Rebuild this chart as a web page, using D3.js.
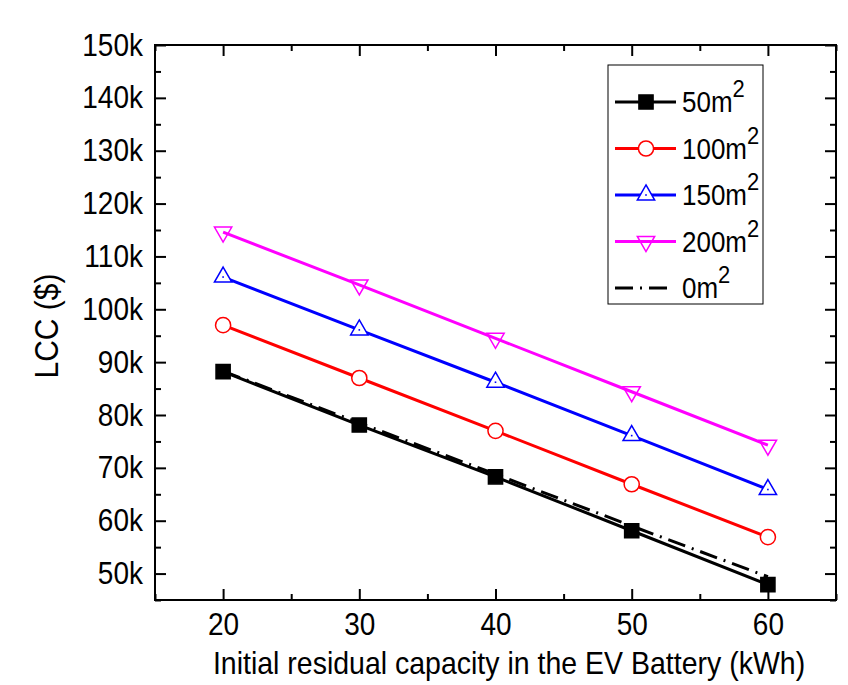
<!DOCTYPE html>
<html>
  <head>
    <title>LCC vs initial residual capacity</title>
    <script src="https://cdn.jsdelivr.net/npm/d3@7"></script>
    <style>
      body { margin: 0; background: #fff; }
      text { font-family: "Liberation Sans", Arial, sans-serif; fill: #000; }
    </style>
  </head>
  <body>
    <svg width="848" height="685" id="mainsvg"></svg>
    <script>
        // data (values in k$)
        const capacity = [20, 30, 40, 50, 60];
        const lcc50  = [88.2, 78.1, 68.3, 58.1, 47.9];
        const lcc100 = [97.0, 87.0, 77.0, 66.9, 56.9];
        const lcc150 = [106.1, 96.1, 86.2, 76.1, 65.9];
        const lcc200 = [114.6, 104.6, 94.5, 84.4, 74.3];
        const lcc0   = [88.3, 78.5, 68.8, 59.0, 49.4];
        const seriesNames = ['50', '100', '150', '200', '0'];
        const xTicks = [20, 30, 40, 50, 60];
        const yTicks = [50, 60, 70, 80, 90, 100, 110, 120, 130, 140, 150];

        const svg = d3.select('#mainsvg');
        const margin = {top: 45, right: 12, bottom: 85, left: 155};
        const innerWidth = 848 - margin.left - margin.right;
        const innerHeight = 685 - margin.top - margin.bottom;
        const stretch = 1.12; // the original glyphs are a bit taller than wide

        const g = svg.append('g')
            .attr('transform', `translate(${margin.left}, ${margin.top})`);

        const x = d3.scaleLinear().domain([15, 65]).range([0, innerWidth]);
        const y = d3.scaleLinear().domain([45, 150]).range([innerHeight, 0]);

        // series styles
        const series = [
            {name: seriesNames[0], values: lcc50,  color: '#000', symbol: d3.symbolSquare,   size: 200, fill: '#000', rot: 0},
            {name: seriesNames[1], values: lcc100, color: '#ff0000', symbol: d3.symbolCircle, size: 180, fill: '#fff', rot: 0},
            {name: seriesNames[2], values: lcc150, color: '#0000ff', symbol: d3.symbolTriangle, size: 130, fill: '#fff', rot: 0, dot: true},
            {name: seriesNames[3], values: lcc200, color: '#ff00ff', symbol: d3.symbolTriangle, size: 130, fill: 'none', rot: 180},
            {name: seriesNames[4], values: lcc0,   color: '#000', symbol: null, dash: '18,7,2,7'}
        ];

        // axes: ticks pointing inward on all four sides
        const minorX = d3.range(15, 66, 5).filter(v => v % 10 !== 0);
        const minorY = d3.range(45, 151, 5).filter(v => v % 10 !== 0);

        const axisStyle = sel => {
            sel.select('.domain').remove();
            sel.selectAll('line').attr('stroke', '#000').attr('stroke-width', 2);
            sel.selectAll('text')
                .style('font-size', '28px')
                .attr('transform', `scale(1,${stretch})`);
        };

        g.append('g')
            .call(d3.axisLeft(y).tickValues(yTicks).tickSize(-11).tickPadding(12).tickFormat(d => d + 'k'))
            .call(axisStyle);
        g.append('g')
            .call(d3.axisLeft(y).tickValues(minorY).tickSize(-6).tickFormat(''))
            .call(axisStyle);
        g.append('g')
            .attr('transform', `translate(${innerWidth},0)`)
            .call(d3.axisRight(y).tickValues(yTicks).tickSize(-11).tickFormat(''))
            .call(axisStyle);
        g.append('g')
            .attr('transform', `translate(${innerWidth},0)`)
            .call(d3.axisRight(y).tickValues(minorY).tickSize(-6).tickFormat(''))
            .call(axisStyle);

        g.append('g')
            .attr('transform', `translate(0,${innerHeight})`)
            .call(d3.axisBottom(x).tickValues(xTicks).tickSize(-11).tickPadding(11))
            .call(axisStyle);
        g.append('g')
            .attr('transform', `translate(0,${innerHeight})`)
            .call(d3.axisBottom(x).tickValues(minorX).tickSize(-6).tickFormat(''))
            .call(axisStyle);
        g.append('g')
            .call(d3.axisTop(x).tickValues(xTicks).tickSize(-11).tickFormat(''))
            .call(axisStyle);
        g.append('g')
            .call(d3.axisTop(x).tickValues(minorX).tickSize(-6).tickFormat(''))
            .call(axisStyle);

        // frame
        g.append('rect')
            .attr('width', innerWidth)
            .attr('height', innerHeight)
            .attr('fill', 'none')
            .attr('stroke', '#000')
            .attr('stroke-width', 2);

        // lines
        const line = d3.line()
            .x((d, i) => x(capacity[i]))
            .y(d => y(d));

        // draw dashed reference first, then the marked series on top
        const order = [4, 0, 1, 2, 3];
        order.forEach(k => {
            const s = series[k];
            g.append('path')
                .datum(s.values)
                .attr('d', line)
                .attr('fill', 'none')
                .attr('stroke', s.color)
                .attr('stroke-width', 3)
                .attr('stroke-dasharray', s.dash || null);
        });

        const drawMarker = (parent, s, cx, cy) => {
            if (!s.symbol) return;
            parent.append('path')
                .attr('d', d3.symbol().type(s.symbol).size(s.size)())
                .attr('transform', `translate(${cx},${cy}) rotate(${s.rot})`)
                .attr('fill', s.fill)
                .attr('stroke', s.color)
                .attr('stroke-width', 1.5);
            if (s.dot) {
                parent.append('rect')
                    .attr('x', cx - 0.8).attr('y', cy - 0.8)
                    .attr('width', 1.6).attr('height', 1.6)
                    .attr('fill', s.color);
            }
        };

        [0, 1, 2, 3].forEach(k => {
            const s = series[k];
            s.values.forEach((v, i) => drawMarker(g, s, x(capacity[i]), y(v)));
        });

        // axis titles
        svg.append('text')
            .attr('transform', `translate(509,674) scale(1,${stretch})`)
            .attr('text-anchor', 'middle')
            .style('font-size', '28.5px')
            .text('Initial residual capacity in the EV Battery (kWh)');

        svg.append('text')
            .attr('transform', `translate(58,326) rotate(-90) scale(1,${stretch})`)
            .attr('text-anchor', 'middle')
            .style('font-size', '30px')
            .text('LCC ($)');

        // legend
        const legend = svg.append('g').attr('transform', 'translate(608,65)');
        legend.append('rect')
            .attr('width', 155)
            .attr('height', 239)
            .attr('fill', '#fff')
            .attr('stroke', '#000')
            .attr('stroke-width', 1);

        series.forEach((s, i) => {
            const row = legend.append('g')
                .attr('transform', `translate(0,${37 + i * 46.5})`);
            row.append('line')
                .attr('x1', 7).attr('x2', s.dash ? 59 : 68)
                .attr('y1', 0).attr('y2', 0)
                .attr('stroke', s.color)
                .attr('stroke-width', 3)
                .attr('stroke-dasharray', s.dash || null);
            drawMarker(row, s, 38, 0);
            const t = row.append('text')
                .attr('transform', `translate(74,10) scale(1,${stretch})`)
                .style('font-size', '26px');
            t.append('tspan').text(s.name + 'm');
            t.append('tspan')
                .attr('dy', -13)
                .style('font-size', '22px')
                .text('2');
        });
    </script>
  </body>
</html>
